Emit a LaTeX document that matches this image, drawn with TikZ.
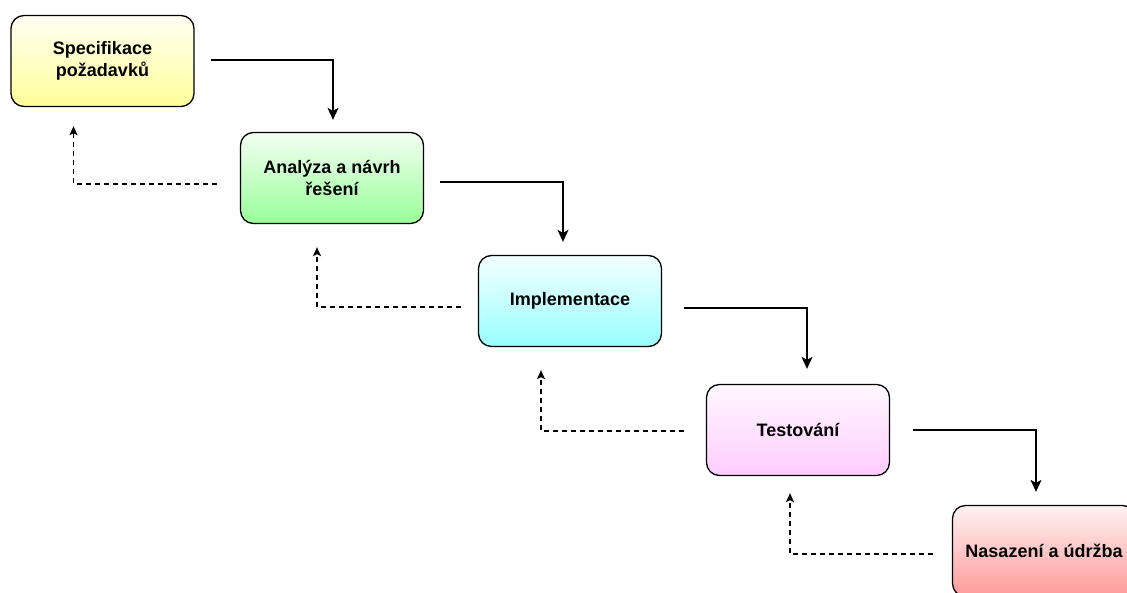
\documentclass[tikz,border=0pt]{standalone}
\usepackage{fontspec}
\setmainfont{Liberation Sans}
\usetikzlibrary{calc, arrows.meta}

\definecolor{specC}{HTML}{FFFF99}
\definecolor{analC}{HTML}{99FF99}
\definecolor{implC}{HTML}{99FFFF}
\definecolor{testC}{HTML}{FFCCFF}
\definecolor{depC}{HTML}{FF9999}

\tikzset{
  phase/.style={draw=black, line width=1.3pt, rounded corners=13pt,
    minimum width=183pt, minimum height=91pt, align=center,
    font=\fontsize{18}{22}\selectfont\bfseries,
    top color=#1!12!white, bottom color=#1},
  flow/.style={line width=1.3pt, -{Stealth[length=12pt,width=11pt,inset=3pt]}},
  back/.style={line width=1.2pt, dash pattern=on 5pt off 4pt,
    -{Stealth[length=9pt,width=8pt,inset=2pt]}}
}

\begin{document}
\begin{tikzpicture}[x=1pt,y=-1pt]
\useasboundingbox (0,0) rectangle (1127,592);
% Phases of the waterfall
\node[phase=specC] (spec) at (102.5,61) {Specifikace\\požadavků};
\node[phase=analC] (anal) at (332,178) {Analýza a návrh\\řešení};
\node[phase=implC] (impl) at (570,301) {Implementace};
\node[phase=testC] (test) at (798,430) {Testování};
\node[phase=depC] (dep) at (1044,551) {Nasazení a údržba};
% Forward flow, step by step
\draw[flow] ($(spec.east)+(16,-1)$) -| ($(anal.north)+(1,-12)$);
\draw[flow] ($(anal.east)+(16,4)$) -| ($(impl.north)+(-7,-13)$);
\draw[flow] ($(impl.east)+(22,7)$) -| ($(test.north)+(9,-15)$);
\draw[flow] ($(test.east)+(23,0)$) -| ($(dep.north)+(-8,-13)$);
% Feedback back to previous phase
\draw[back] ($(anal.west)+(-23,6)$) -| ($(spec.south)+(-29,19)$);
\draw[back] ($(impl.west)+(-17,6)$) -| ($(anal.south)+(-15,23)$);
\draw[back] ($(test.west)+(-22,1)$) -| ($(impl.south)+(-29,23)$);
\draw[back] ($(dep.west)+(-19,3)$) -| ($(test.south)+(-8,17)$);
\end{tikzpicture}
\end{document}
